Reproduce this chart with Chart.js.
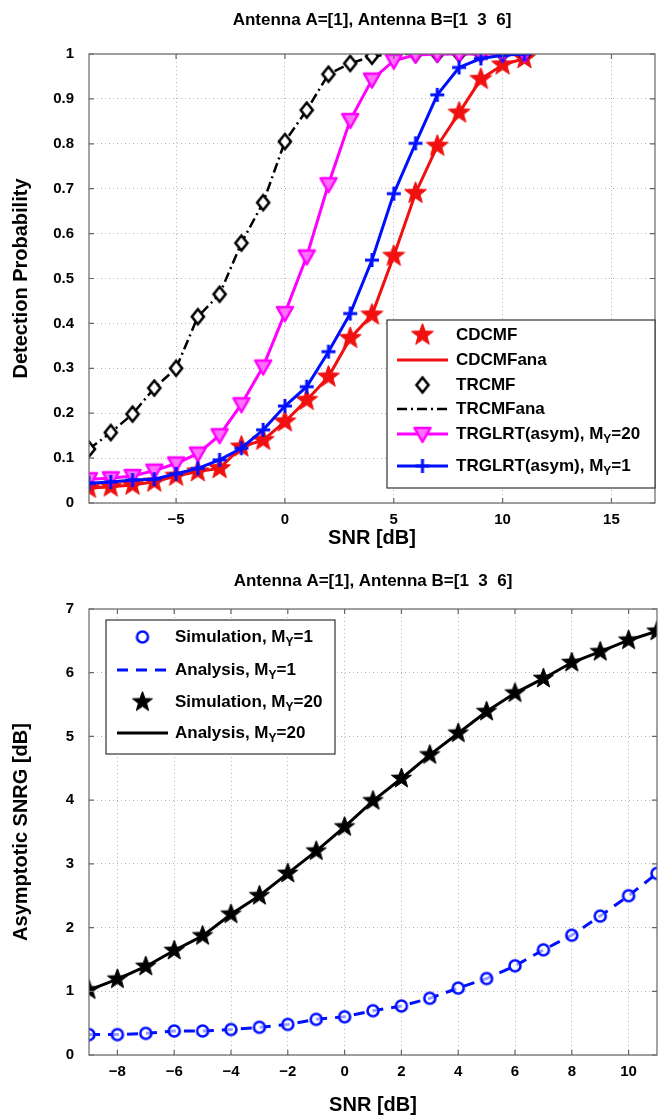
<!DOCTYPE html>
<html><head><meta charset="utf-8">
<script src="https://cdn.jsdelivr.net/npm/chart.js@4/dist/chart.umd.min.js"></script>
<style>
html,body{margin:0;padding:0;background:#fff;}
canvas{display:block;}
</style></head><body>
<canvas id="c1" width="659" height="560"></canvas>
<canvas id="c2" width="659" height="558"></canvas>
<script>
// ---------- DATA ----------
const snr = [-9,-8,-7,-6,-5,-4,-3,-2,-1,0,1,2,3,4,5,6,7,8,9,10,11];
// Top chart: detection probability
const cdcmf   = [0.033,0.036,0.040,0.047,0.060,0.070,0.077,0.125,0.140,0.181,0.229,0.281,0.367,0.419,0.550,0.690,0.795,0.869,0.944,0.976,0.990];
const trcmf   = [0.120,0.157,0.198,0.256,0.300,0.415,0.465,0.579,0.669,0.805,0.875,0.955,0.979,0.995,1,1,1,1,1,1,1];
const glrt20  = [0.053,0.055,0.060,0.072,0.088,0.110,0.151,0.220,0.304,0.423,0.549,0.710,0.853,0.943,0.985,0.998,1,1,1,1,1];
const glrt1   = [0.044,0.047,0.051,0.053,0.065,0.077,0.096,0.122,0.163,0.216,0.259,0.337,0.422,0.541,0.689,0.801,0.909,0.970,0.990,0.997,1];
// Bottom chart: asymptotic SNRG [dB]
const snrg20  = [1.02,1.19,1.39,1.64,1.87,2.21,2.50,2.85,3.20,3.58,3.99,4.34,4.71,5.05,5.39,5.68,5.91,6.16,6.33,6.51,6.65];
const snrg1   = [0.32,0.32,0.34,0.377,0.377,0.40,0.435,0.48,0.56,0.60,0.695,0.77,0.89,1.05,1.20,1.40,1.65,1.88,2.18,2.50,2.85];
// Ticks
const topXTicks = [-5,0,5,10,15];
const topYTicks = [0,0.1,0.2,0.3,0.4,0.5,0.6,0.7,0.8,0.9,1];
const botXTicks = [-8,-6,-4,-2,0,2,4,6,8,10];
const botYTicks = [0,1,2,3,4,5,6,7];
const titleText = 'Antenna A=[1], Antenna B=[1  3  6]';

// ---------- MARKERS ----------
function mk(size, fn){const c=document.createElement('canvas');c.width=size;c.height=size;const g=c.getContext('2d');g.translate(size/2,size/2);fn(g);return c;}
function star(color,R,r){return mk(Math.ceil(2*R+4),g=>{g.beginPath();for(let i=0;i<10;i++){const a=-Math.PI/2+i*Math.PI/5;const rr=i%2?r:R;g.lineTo(rr*Math.cos(a),rr*Math.sin(a));}g.closePath();g.fillStyle=color;g.fill();g.strokeStyle=color;g.lineWidth=1;g.stroke();});}
const starRed = star('#f01010',11.5,4.8);
const starBlack = star('#000',10.5,4.3);
const diamond = mk(22,g=>{g.beginPath();g.moveTo(0,-7.5);g.lineTo(6,0);g.lineTo(0,7.5);g.lineTo(-6,0);g.closePath();g.fillStyle='#fff';g.fill();g.strokeStyle='#000';g.lineWidth=2.6;g.stroke();});
const triDown = mk(24,g=>{g.beginPath();g.moveTo(-8,-6);g.lineTo(8,-6);g.lineTo(0,8);g.closePath();g.fillStyle='#ff70ff';g.fill();g.strokeStyle='#ff00ff';g.lineWidth=2.5;g.lineJoin='round';g.stroke();});
const plusBlue = mk(20,g=>{g.beginPath();g.moveTo(-7,0);g.lineTo(7,0);g.moveTo(0,-7);g.lineTo(0,7);g.strokeStyle='#0010ff';g.lineWidth=3;g.stroke();});
const circBlue = mk(18,g=>{g.beginPath();g.arc(0,0,5.5,0,Math.PI*2);g.fillStyle='rgba(255,255,255,0.6)';g.fill();g.strokeStyle='#0010ff';g.lineWidth=2.6;g.stroke();});

const pts = arr => snr.map((x,i)=>({x:x,y:arr[i]}));
const RED='#f01010', BLUE='#0010ff', MAG='#ff00ff', BLK='#000';
const FONT='"Liberation Sans", Arial, Helvetica, sans-serif';

// ---------- PLUGIN: frame, inward ticks, titles, legend ----------
function drawText(ctx, parts, x, y, size){
  let cx=x;
  ctx.textBaseline='middle';ctx.textAlign='left';
  for(const p of parts){
    if(p.sub){ctx.font='bold '+Math.round(size*0.72)+'px '+FONT;ctx.fillText(p.t,cx,y+size*0.35);cx+=ctx.measureText(p.t).width;}
    else{ctx.font='bold '+size+'px '+FONT;ctx.fillText(p.t,cx,y);cx+=ctx.measureText(p.t).width;}
  }
}
function sample(ctx, s, x0, x1, y){
  if(s.line){ctx.save();ctx.strokeStyle=s.line;ctx.lineWidth=s.lw||3;ctx.setLineDash(s.dash||[]);ctx.beginPath();ctx.moveTo(x0,y);ctx.lineTo(x1,y);ctx.stroke();ctx.restore();}
  if(s.marker){ctx.drawImage(s.marker,(x0+x1)/2-s.marker.width/2,y-s.marker.height/2);}
}
function makePlugin(cfg){
  return {id:'deco',
    afterDraw(chart){
      const ctx=chart.ctx, a=chart.chartArea, xs=chart.scales.x, ys=chart.scales.y;
      ctx.save();
      // frame
      ctx.strokeStyle='#666';ctx.lineWidth=1.2;ctx.setLineDash([]);
      ctx.strokeRect(a.left,a.top,a.right-a.left,a.bottom-a.top);
      // inward ticks
      ctx.beginPath();
      for(const v of cfg.xt){const px=xs.getPixelForValue(v);ctx.moveTo(px,a.bottom);ctx.lineTo(px,a.bottom-5);ctx.moveTo(px,a.top);ctx.lineTo(px,a.top+5);}
      for(const v of cfg.yt){const py=ys.getPixelForValue(v);ctx.moveTo(a.left,py);ctx.lineTo(a.left+5,py);ctx.moveTo(a.right,py);ctx.lineTo(a.right-5,py);}
      ctx.stroke();
      // titles
      ctx.fillStyle='#000';ctx.textAlign='center';ctx.textBaseline='middle';
      ctx.font='bold 17px '+FONT;
      ctx.fillText(titleText,(a.left+a.right)/2,cfg.titleY);
      ctx.font='bold 20px '+FONT;
      ctx.fillText('SNR [dB]',(a.left+a.right)/2,cfg.xTitleY);
      ctx.save();ctx.translate(cfg.yTitleX,(a.top+a.bottom)/2);ctx.rotate(-Math.PI/2);ctx.fillText(cfg.yTitle,0,0);ctx.restore();
      // legend
      const L=cfg.legend;
      ctx.fillStyle='#fff';ctx.fillRect(L.x0,L.y0,L.x1-L.x0,L.y1-L.y0);
      ctx.strokeStyle='#333';ctx.lineWidth=1.2;ctx.strokeRect(L.x0,L.y0,L.x1-L.x0,L.y1-L.y0);
      ctx.fillStyle='#000';
      for(const it of L.items){sample(ctx,it,L.sx0,L.sx1,it.y);drawText(ctx,it.text,L.tx,it.y,17);}
      ctx.restore();
    }};
}

function scaleOpts(min,max,ticks,axis,fmt){
  return {type:'linear',min:min,max:max,
    afterBuildTicks:s=>{s.ticks=ticks.map(v=>({value:v}));},
    afterFit:s=>{ if(axis==='y'){s.width=89;s.paddingTop=0;s.paddingBottom=0;} else {s.height=axis;s.paddingLeft=0;s.paddingRight=0;} },
    grid:{color:'#b8b8b8',lineWidth:1,drawTicks:false},
    border:{display:false,dash:[1,3]},
    ticks:{color:'#000',font:{family:FONT,size:15,weight:'bold'},padding:axis==='y'?15:8,autoSkip:false,maxRotation:0,
      callback:v=>fmt(v)}
  };
}
const fmtNum = v => (Math.abs(v)<1e-9?'0':String(+v.toFixed(2))).replace('-','\u2212');

Chart.defaults.animation=false;

// ---------- TOP CHART ----------
new Chart(document.getElementById('c1'),{
  type:'line',
  data:{datasets:[
    {data:pts(glrt1),borderColor:BLUE,borderWidth:3,pointStyle:plusBlue,pointRadius:7,tension:0},
    {data:pts(glrt20),borderColor:MAG,borderWidth:3,pointStyle:triDown,pointRadius:8,tension:0},
    {data:pts(trcmf),showLine:false,pointStyle:diamond,pointRadius:8},
    {data:pts(trcmf),borderColor:BLK,borderWidth:2.5,borderDash:[10,4,2,4],pointRadius:0,tension:0},
    {data:pts(cdcmf),showLine:false,pointStyle:starRed,pointRadius:11},
    {data:pts(cdcmf),borderColor:RED,borderWidth:3,pointRadius:0,tension:0}
  ]},
  options:{responsive:false,animation:false,
    layout:{autoPadding:false,padding:{top:54,right:4,left:0,bottom:0}},
    plugins:{legend:{display:false},tooltip:{enabled:false},title:{display:false}},
    scales:{x:scaleOpts(-9,17,topXTicks,57,fmtNum),y:scaleOpts(0,1,topYTicks,'y',fmtNum)}
  },
  plugins:[makePlugin({xt:topXTicks,yt:topYTicks,titleY:20,xTitleY:538,yTitleX:21,yTitle:'Detection Probability',
    legend:{x0:387,y0:320,x1:655,y1:488,sx0:397,sx1:448,tx:456,items:[
      {y:335,marker:starRed,text:[{t:'CDCMF'}]},
      {y:360,line:RED,text:[{t:'CDCMFana'}]},
      {y:385,marker:diamond,text:[{t:'TRCMF'}]},
      {y:409,line:BLK,lw:2.5,dash:[10,4,2,4],text:[{t:'TRCMFana'}]},
      {y:434,line:MAG,marker:triDown,text:[{t:'TRGLRT(asym), M'},{t:'Y',sub:true},{t:'=20'}]},
      {y:466,line:BLUE,marker:plusBlue,text:[{t:'TRGLRT(asym), M'},{t:'Y',sub:true},{t:'=1'}]}
    ]}})]
});

// ---------- BOTTOM CHART ----------
new Chart(document.getElementById('c2'),{
  type:'line',
  data:{datasets:[
    {data:pts(snrg20),showLine:false,pointStyle:starBlack,pointRadius:10},
    {data:pts(snrg20),borderColor:BLK,borderWidth:3,pointRadius:0,tension:0},
    {data:pts(snrg1),showLine:false,pointStyle:circBlue,pointRadius:7},
    {data:pts(snrg1),borderColor:BLUE,borderWidth:3,borderDash:[11,8],pointRadius:0,tension:0}
  ]},
  options:{responsive:false,animation:false,
    layout:{autoPadding:false,padding:{top:49,right:2,left:0,bottom:0}},
    plugins:{legend:{display:false},tooltip:{enabled:false},title:{display:false}},
    scales:{x:scaleOpts(-9,11,botXTicks,63,fmtNum),y:scaleOpts(0,7,botYTicks,'y',fmtNum)}
  },
  plugins:[makePlugin({xt:botXTicks,yt:botYTicks,titleY:21,xTitleY:545,yTitleX:21,yTitle:'Asymptotic SNRG [dB]',
    legend:{x0:106,y0:60,x1:335,y1:194,sx0:117,sx1:168,tx:175,items:[
      {y:77,marker:circBlue,text:[{t:'Simulation, M'},{t:'Y',sub:true},{t:'=1'}]},
      {y:110,line:BLUE,dash:[11,8],text:[{t:'Analysis, M'},{t:'Y',sub:true},{t:'=1'}]},
      {y:142,marker:starBlack,text:[{t:'Simulation, M'},{t:'Y',sub:true},{t:'=20'}]},
      {y:173,line:BLK,text:[{t:'Analysis, M'},{t:'Y',sub:true},{t:'=20'}]}
    ]}})]
});
</script>
</body></html>
